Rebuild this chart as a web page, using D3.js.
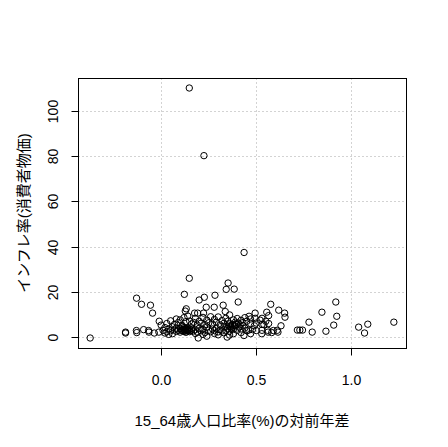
<!DOCTYPE html>
<html><head><meta charset="utf-8">
<script src="https://cdn.jsdelivr.net/npm/d3@7"></script>
<style>
html,body{margin:0;padding:0;background:#fff;}
text{font-family:"Liberation Sans",Arial,"Noto Sans CJK JP",sans-serif;fill:#000;}
</style></head>
<body><svg id="c" width="448" height="447"></svg>
<script>
// x: 15_64歳人口比率(%)の対前年差, y: インフレ率(消費者物価)
const xVals = [
0.148,0.225,0.436,0.148,0.352,0.342,0.384,0.122,0.405,0.283,0.227,0.200,-0.129,-0.103,-0.056,-0.045,
0.132,0.127,0.176,0.192,0.223,0.237,0.279,0.326,0.337,0.576,0.555,0.565,0.618,0.649,0.651,0.494,
0.494,0.462,0.530,0.918,0.845,0.923,0.777,0.907,0.630,1.223,1.086,1.038,1.069,0.866,0.794,0.716,
0.729,0.743,0.614,0.581,0.562,0.529,-0.373,-0.187,-0.187,-0.130,-0.128,-0.092,-0.066,-0.064,-0.036,-0.012,
-0.010,0.195,0.347,0.435,0.470,
0.55,0.565,0.54,0.47,0.50,0.52,0.53,0.46,0.48,0.50,0.53,0.56,0.59,0.61,
0.01,0.02,0.03,0.04,0.05,0.06,0.06,0.07,0.08,0.08,0.09,0.10,0.10,0.11,0.11,0.12,0.12,0.13,0.13,0.14,
0.14,0.15,0.15,0.16,0.16,0.17,0.18,0.19,0.20,0.21,0.22,0.23,0.24,0.25,0.26,0.27,0.28,0.29,0.30,0.31,
0.32,0.33,0.34,0.35,0.36,0.37,0.38,0.39,0.40,0.41,0.42,0.43,0.44,0.45,0.02,0.04,0.18,0.22,0.28,0.30,
0.33,0.38,0.42,
0.105,0.115,0.125,0.135,0.145,0.13,0.12,0.14,
0.345,0.355,0.365,0.375,0.385,0.395,0.405,0.415,0.36,0.37,
0.00,0.03,0.05,0.07,0.08,0.09,0.10,0.11,0.12,0.13,0.14,0.15,0.16,0.17,0.18,0.19,0.20,0.21,0.22,0.23,
0.24,0.25,0.26,0.27,0.28,0.29,0.30,0.31,0.32,0.33,0.34,0.35,0.36,0.38,0.39,0.40,0.42,0.43,0.44,0.45,
0.47,0.49,0.24,0.36
];
const yVals = [
110.1,80.2,37.4,26.0,23.9,21.1,21.2,18.9,15.5,18.5,17.6,16.4,17.2,14.5,14.1,10.6,
12.5,11.5,10.6,10.6,10.6,13.2,13.2,14.1,11.3,14.5,11.0,9.5,11.9,10.6,8.8,10.6,
8.3,9.2,8.3,15.5,11.0,9.2,6.6,5.3,5.0,6.6,5.7,4.4,1.8,2.6,2.2,3.1,
3.1,3.1,2.2,2.0,2.2,1.5,-0.4,2.2,1.8,2.9,2.0,3.3,2.9,2.2,1.8,2.2,
7.0,-0.4,0.0,0.7,1.5,
7.0,6.0,5.5,8.0,6.2,7.5,5.6,3.1,3.3,2.9,3.0,3.0,2.9,3.0,
3.0,4.2,2.4,3.6,2.8,4.5,1.5,3.2,2.5,4.0,3.0,2.2,3.8,2.9,4.6,2.5,3.4,2.9,2.1,3.2,
2.6,3.6,2.4,3.0,4.1,2.7,3.3,2.2,3.9,2.8,3.4,2.0,4.4,3.0,2.4,3.6,2.9,4.0,2.3,3.2,
2.7,4.5,3.0,3.8,2.6,4.2,3.4,4.9,3.0,4.4,3.6,5.2,4.0,2.8,1.8,1.2,1.6,1.2,1.6,1.0,
1.9,1.5,2.0,
3.1,3.5,2.8,3.3,2.9,3.9,4.2,4.0,
4.8,5.3,4.6,5.6,5.0,5.8,6.2,5.4,6.0,3.6,
5.3,6.0,7.2,5.6,8.0,6.4,7.6,5.2,8.6,6.8,9.3,7.1,5.8,6.5,8.3,5.3,7.0,6.1,8.7,5.5,
7.5,6.3,9.0,5.7,7.8,6.6,8.9,5.4,7.3,6.1,8.3,7.0,9.8,7.6,6.6,8.2,7.4,6.4,8.6,7.0,
6.0,5.0,0.4,0.9
];
const xTicks = [0.0, 0.5, 1.0];
const yTicks = [0, 20, 40, 60, 80, 100];
const xTitle = "15_64歳人口比率(%)の対前年差";
const yTitle = "インフレ率(消費者物価)";

const L = 78, R = 406, T = 78, B = 348;
const svg = d3.select("#c");
function padExt(a){ const e = d3.extent(a), p = (e[1]-e[0])*0.04; return [e[0]-p, e[1]+p]; }
const x = d3.scaleLinear().domain(padExt(xVals)).range([L, R]);
const y = d3.scaleLinear().domain(padExt(yVals)).range([B, T]);

// grid
const g = svg.append("g");
g.selectAll("line.gx").data(xTicks).enter().append("line")
  .attr("x1", d => Math.round(x(d))+0.5).attr("x2", d => Math.round(x(d))+0.5)
  .attr("y1", T).attr("y2", B)
  .attr("stroke", "#d3d3d3").attr("stroke-dasharray", "2,2").attr("stroke-width", 1);
g.selectAll("line.gy").data(yTicks).enter().append("line")
  .attr("y1", d => Math.round(y(d))+0.5).attr("y2", d => Math.round(y(d))+0.5)
  .attr("x1", L).attr("x2", R)
  .attr("stroke", "#d3d3d3").attr("stroke-dasharray", "2,2").attr("stroke-width", 1);

// points
svg.append("g").selectAll("circle").data(xVals.map((v,i)=>[v,yVals[i]])).enter().append("circle")
  .attr("cx", d => x(d[0])).attr("cy", d => y(d[1])).attr("r", 3.2)
  .attr("fill", "none").attr("stroke", "#000").attr("stroke-width", 1);

// box
svg.append("rect").attr("x", L+0.5).attr("y", T+0.5).attr("width", R-L).attr("height", B-T)
  .attr("fill", "none").attr("stroke", "#000").attr("stroke-width", 1);

// axes
const xa = svg.append("g").attr("transform", `translate(0,${B+0.5})`)
  .call(d3.axisBottom(x).tickValues(xTicks).tickFormat(d3.format(".1f")).tickSize(7).tickPadding(20));
xa.select(".domain").attr("d", `M${Math.round(x(xTicks[0]))+0.5},0H${Math.round(x(xTicks[xTicks.length-1]))+0.5}`);
xa.selectAll(".tick").attr("transform", d => `translate(${Math.round(x(d))+0.5},0)`);
xa.selectAll("text").attr("font-size", 14).attr("fill", "#000");

const ya = svg.append("g").attr("transform", `translate(${L+0.5},0)`)
  .call(d3.axisLeft(y).tickValues(yTicks).tickSize(7).tickPadding(0));
ya.select(".domain").attr("d", `M0,${Math.round(y(yTicks[0]))+0.5}V${Math.round(y(yTicks[yTicks.length-1]))+0.5}`);
ya.selectAll(".tick").attr("transform", d => `translate(0,${Math.round(y(d))+0.5})`);
ya.selectAll("text").attr("font-size", 14).attr("fill", "#000")
  .attr("x", null).attr("dy", null).attr("text-anchor", "middle")
  .attr("transform", "translate(-21,0) rotate(-90)").attr("dy", "0");
svg.selectAll(".tick line").attr("stroke", "#000");
svg.selectAll(".domain").attr("stroke", "#000");

svg.append("text").attr("x", (L+R)/2).attr("y", 426).attr("text-anchor", "middle")
  .attr("font-size", 15).text(xTitle);
svg.append("text").attr("transform", `translate(29,${(T+B)/2}) rotate(-90)`).attr("text-anchor", "middle")
  .attr("font-size", 15).text(yTitle);
</script></body></html>
